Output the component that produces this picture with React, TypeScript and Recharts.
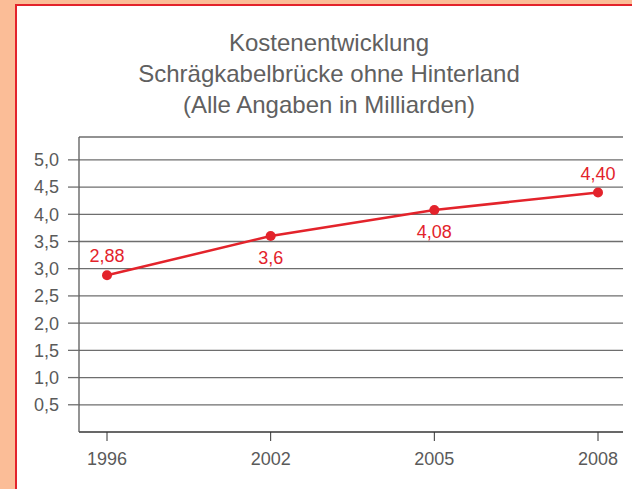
import { LineChart, Line, XAxis, YAxis, CartesianGrid, LabelList } from 'recharts';

const years = ['1996', '2002', '2005', '2008'];
const costs = [2.88, 3.6, 4.08, 4.4];
const costLabels = ['2,88', '3,6', '4,08', '4,40'];
const yTicks = [0.5, 1, 1.5, 2, 2.5, 3, 3.5, 4, 4.5, 5];
const titleLines = [
  'Kostenentwicklung',
  'Schrägkabelbrücke ohne Hinterland',
  '(Alle Angaben in Milliarden)',
];

// which side of the dot each value label sits on
const labelAbove = [true, false, false, true];

const data = years.map((year, i) => ({ year, cost: costs[i], label: costLabels[i] }));

const FONT = '"Liberation Sans", Arial, Helvetica, sans-serif';
const RED = '#e3232b';
const GREY = '#5a5a5a';

const fmt = (v: number) => v.toFixed(1).replace('.', ',');

function ValueLabel(props: any) {
  const { x, y, index } = props;
  const above = labelAbove[index];
  return (
    <text
      x={x}
      y={above ? y - 19 : y + 22}
      textAnchor="middle"
      dominantBaseline="central"
      fill={RED}
      fontSize={18}
      fontFamily={FONT}
    >
      {costLabels[index]}
    </text>
  );
}

export default function App() {
  return (
    <div
      style={{
        position: 'absolute',
        left: 0,
        top: 0,
        width: 632,
        height: 489,
        background: '#fbbd97',
        overflow: 'hidden',
        fontFamily: FONT,
      }}
    >
      <div
        style={{
          position: 'absolute',
          left: 15,
          top: 4,
          width: 640,
          height: 500,
          background: '#fff',
          borderLeft: `2px solid ${RED}`,
          borderTop: `2px solid ${RED}`,
        }}
      />
      <div
        style={{
          position: 'absolute',
          left: 0,
          top: 27,
          width: 658,
          textAlign: 'center',
          color: '#606060',
          fontSize: 24,
          lineHeight: '31px',
        }}
      >
        {titleLines.map((t) => (
          <div key={t}>{t}</div>
        ))}
      </div>
      <div style={{ position: 'absolute', left: 0, top: 0 }}>
        <LineChart
          width={632}
          height={489}
          data={data}
          margin={{ top: 137, right: 9, bottom: 27, left: 0 }}
        >
          <CartesianGrid vertical={false} stroke="#6e6e6e" strokeWidth={1.3} />
          <XAxis
            dataKey="year"
            height={30}
            padding={{ left: 28, right: 25 }}
            axisLine={{ stroke: GREY, strokeWidth: 1.3 }}
            tickLine={{ stroke: '#333' }}
            tickSize={9}
            tickMargin={11}
            tick={{ fill: GREY, fontSize: 18, fontFamily: FONT }}
          />
          <YAxis
            type="number"
            domain={[0, 5.42]}
            ticks={yTicks}
            tickFormatter={fmt}
            width={79}
            axisLine={{ stroke: GREY, strokeWidth: 1.3 }}
            tickLine={{ stroke: '#6e6e6e', strokeWidth: 1.3 }}
            tickSize={11}
            tickMargin={9}
            tick={{ fill: GREY, fontSize: 18, fontFamily: FONT }}
          />
          <Line
            dataKey="cost"
            type="linear"
            stroke={RED}
            strokeWidth={2.5}
            dot={{ r: 5, fill: RED, stroke: RED, strokeWidth: 0 }}
            isAnimationActive={false}
          >
            <LabelList dataKey="label" content={<ValueLabel />} />
          </Line>
        </LineChart>
      </div>
    </div>
  );
}
